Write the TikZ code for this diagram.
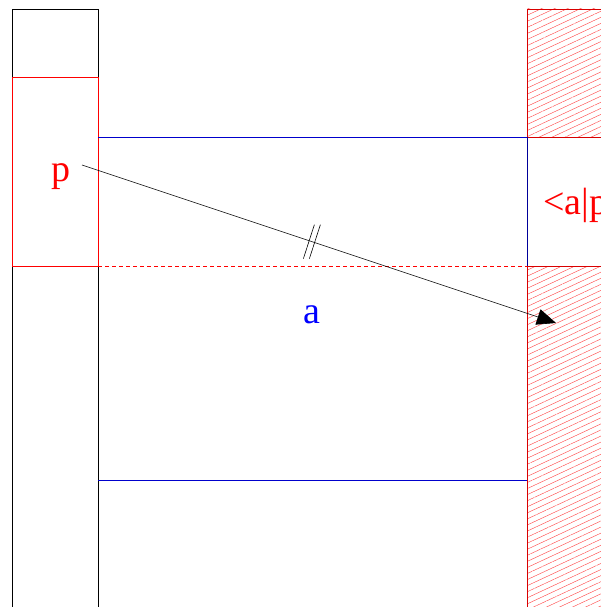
\documentclass[tikz,border=0pt]{standalone}
\usepackage{fontspec}
\setmainfont{Liberation Serif}
\usetikzlibrary{arrows.meta, positioning, patterns.meta}

\begin{document}
\begin{tikzpicture}[x=1pt, y=-1pt,
    wall/.style={draw=red!85!black, line width=0.9pt, pattern={Lines[angle=25, distance=5.5pt, line width=0.45pt]}, pattern color=red!70},
    lbl/.style={inner sep=0pt, font=\fontsize{38}{44}\selectfont}]
    \clip (0,0) rectangle (601,607);

    % left column
    \draw[line width=0.8pt] (12,607) -- (12,9) -- (98,9) -- (98,607);
    \draw[red, line width=0.7pt] (12,77) rectangle (98,266);

    % blue band
    \draw[blue!80!black, line width=0.6pt] (98,137) -- (527,137) -- (527,480) -- (98,480);
    \draw[red, line width=0.6pt, dash pattern=on 4pt off 3pt] (98,266) -- (527,266);

    % right wall
    \draw[wall] (527,9) rectangle (640,137);
    \draw[wall] (527,266) rectangle (640,640);
    \draw[blue!60!black, line width=0.8pt] (527,137) -- (527,266);

    % labels
    \node[lbl, red] (p) at (61,177) {p};
    \node[lbl, blue] (a) at (312,315) {a};
    \node[lbl, red, anchor=west] (ap) at (543,205) {<a|p};

    % arrow
    \coordinate (s) at (82,165);
    \coordinate (e) at (556,323);
    \draw[-{Triangle[length=19pt, width=16pt]}, line width=0.6pt] (s) -- coordinate[pos=0.485] (m) (e);
    \draw[line width=0.6pt] ([shift={(-8.5,17)}]m) -- ([shift={(2.5,-17)}]m);
    \draw[line width=0.6pt] ([shift={(-2.5,17)}]m) -- ([shift={(8.5,-17)}]m);
\end{tikzpicture}
\end{document}
